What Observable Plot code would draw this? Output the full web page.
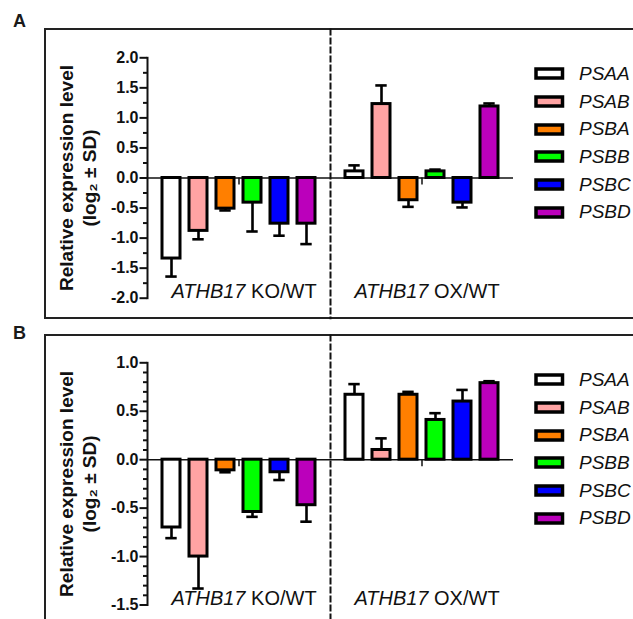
<!DOCTYPE html>
<html>
<head>
<meta charset="utf-8">
<script src="https://cdn.jsdelivr.net/npm/d3@7"></script>
<script src="https://cdn.jsdelivr.net/npm/@observablehq/plot@0.6"></script>
<style>
  html, body { margin: 0; padding: 0; background: #fff; overflow: hidden; }
  #page { position: relative; width: 633px; height: 619px; overflow: hidden; font-family: 'Liberation Sans', Arial, sans-serif; }
  .tag { position: absolute; font: bold 18px 'Liberation Sans', Arial, sans-serif; line-height: 18px; color: #1a1a1a; }
  .box { position: absolute; border: 2px solid #222; box-sizing: border-box; }
  .slot { position: absolute; }
  .lg-swatches { font: italic 19px 'Liberation Sans', Arial, sans-serif !important; color: #111; margin: 0 !important; min-height: 0 !important; }
  .lg-swatch { height: 27.7px; padding: 0 !important; margin: 0 !important; display: flex; align-items: center; }
  .lg-swatch svg { overflow: visible; margin-right: 16.5px !important; }
  .lg-swatch rect { stroke: #000; stroke-width: 3.5px; }
</style>
</head>
<body>
<div id="page">
  <div class="tag" style="left:13px;top:12px">A</div>
  <div class="box" style="left:44px;top:28px;width:700px;height:290.7px"></div>
  <div class="slot" id="plotA" style="left:0;top:0"></div>
  <div class="slot" id="legA" style="left:536px;top:60px"></div>
  <div class="tag" style="left:13px;top:324px">B</div>
  <div class="box" style="left:44px;top:334.3px;width:700px;height:400px"></div>
  <div class="slot" id="plotB" style="left:0;top:306px"></div>
  <div class="slot" id="legB" style="left:536px;top:366px"></div>
</div>
<script>
// ---- data ----
const genes = ["PSAA", "PSAB", "PSBA", "PSBB", "PSBC", "PSBD"];
const geneColors = ["#ffffff", "#ffa3a3", "#ff7f00", "#00ff00", "#0000ff", "#bb00bb"];
const groups = ["KO", "OX"];
const groupLabels = ["ATHB17 KO/WT", "ATHB17 OX/WT"];

// Panel A
const koMeanA = [-1.34, -0.88, -0.51, -0.41, -0.76, -0.76];
const koSdA   = [0.30, 0.14, 0.03, 0.48, 0.20, 0.34];
const oxMeanA = [0.11, 1.23, -0.37, 0.11, -0.41, 1.19];
const oxSdA   = [0.10, 0.31, 0.11, 0.03, 0.08, 0.05];
const majorTicksA = [-2.0, -1.5, -1.0, -0.5, 0.0, 0.5, 1.0, 1.5, 2.0];
const minorTicksA = [-1.75, -1.25, -0.75, -0.25, 0.25, 0.75, 1.25, 1.75];

// Panel B
const koMeanB = [-0.70, -1.00, -0.11, -0.54, -0.13, -0.47];
const koSdB   = [0.11, 0.33, 0.02, 0.05, 0.08, 0.17];
const oxMeanB = [0.67, 0.10, 0.67, 0.41, 0.60, 0.79];
const oxSdB   = [0.11, 0.12, 0.03, 0.07, 0.12, 0.02];
const majorTicksB = [-1.5, -1.0, -0.5, 0.0, 0.5, 1.0];
const minorTicksB = [-1.4, -1.3, -1.2, -1.1, -0.9, -0.8, -0.7, -0.6, -0.4, -0.3, -0.2, -0.1, 0.1, 0.2, 0.3, 0.4, 0.6, 0.7, 0.8, 0.9];

const yTitle = "Relative expression level\n(log\u2082 \u00b1 SD)";

function rows(koMean, koSd, oxMean, oxSd) {
  const out = [];
  genes.forEach((g, i) => out.push({group: "KO", gene: g, value: koMean[i], sd: koSd[i]}));
  genes.forEach((g, i) => out.push({group: "OX", gene: g, value: oxMean[i], sd: oxSd[i]}));
  out.forEach(d => d.end = d.value + Math.sign(d.value) * d.sd);
  return out;
}

function panel(data, yDomain, majorTicks, minorTicks, height, marginTop, marginBottom, divTop, divBottom) {
  const groupRows = groups.map((g, i) => ({group: g, label: groupLabels[i]}));
  const chart = Plot.plot({
    width: 633,
    height,
    marginLeft: 147,
    marginRight: 120,
    marginTop,
    marginBottom,
    style: {fontFamily: "'Liberation Sans', Arial, sans-serif", fontSize: "16px", color: "#111", background: "transparent", overflow: "visible"},
    fx: {domain: groups, padding: 0, axis: null},
    x: {domain: genes, paddingInner: 0.35, paddingOuter: 0.54, axis: null},
    y: {domain: yDomain},
    color: {domain: genes, range: geneColors},
    marks: [
      Plot.ruleY([0], {stroke: "#111", strokeWidth: 1.5}),
      Plot.ruleX(groupRows, {fx: "group", x: null, y1: 0, y2: 0, insetBottom: -7, stroke: "#111", strokeWidth: 1.5}),
      Plot.barY(data, {fx: "group", x: "gene", y: "value", fill: "gene", stroke: "#000", strokeWidth: 3}),
      Plot.ruleX(data, {fx: "group", x: "gene", y1: "value", y2: "end", stroke: "#000", strokeWidth: 2.6}),
      Plot.tickY(data, {fx: "group", x: "gene", y: "end", stroke: "#000", strokeWidth: 2.6, insetLeft: 3.3, insetRight: 3.3}),
      Plot.frame({anchor: "left", facetAnchor: "left", stroke: "#111", strokeWidth: 2}),
      Plot.frame({anchor: "left", facetAnchor: "right", stroke: "#111", strokeWidth: 2, strokeDasharray: "5,4", insetTop: -divTop, insetBottom: -divBottom}),
      Plot.axisY({ticks: minorTicks, tickSize: 4, tickFormat: () => "", label: null, stroke: "#111", strokeWidth: 2}),
      Plot.axisY({ticks: majorTicks, tickSize: 7.5, tickPadding: 1.5, tickFormat: d => d.toFixed(1), label: null, fontWeight: "bold", fontSize: 16, stroke: "#111", strokeWidth: 2}),
      Plot.text(groupRows, {fx: "group", text: "label", frameAnchor: "bottom", dx: 5, dy: 0, fontSize: 20, fill: "#111"}),
      Plot.text([{group: "KO", t: yTitle}], {fx: "group", text: "t", frameAnchor: "left", textAnchor: "middle", lineAnchor: "middle", rotate: -90, dx: -70.5, lineHeight: 1.2, fontSize: 19, fontWeight: "bold", fill: "#111"})
    ]
  });
  // italic gene name in group labels
  d3.select(chart).selectAll("text").each(function () {
    const t = this.textContent;
    if (t.startsWith("ATHB17 ") && this.childElementCount === 0) {
      const sel = d3.select(this);
      sel.text(null);
      sel.append("tspan").attr("font-style", "italic").text("ATHB17");
      sel.append("tspan").text(t.slice(6));
    }
  });
  return chart;
}

const dataA = rows(koMeanA, koSdA, oxMeanA, oxSdA);
const dataB = rows(koMeanB, koSdB, oxMeanB, oxSdB);

const chartA = panel(dataA, [-2, 2], majorTicksA, minorTicksA, 320, 57.3, 22.3, 28.3, 20);
const chartB = panel(dataB, [-1.5, 1.0], majorTicksB, minorTicksB, 313, 56.3, 14.5, 27.3, 14.5);
document.getElementById("plotA").appendChild(chartA);
document.getElementById("plotB").appendChild(chartB);

const legOpts = {columns: 1, swatchWidth: 26.5, swatchHeight: 9, className: "lg"};
document.getElementById("legA").appendChild(chartA.legend("color", legOpts));
document.getElementById("legB").appendChild(chartB.legend("color", legOpts));
</script>
</body>
</html>
